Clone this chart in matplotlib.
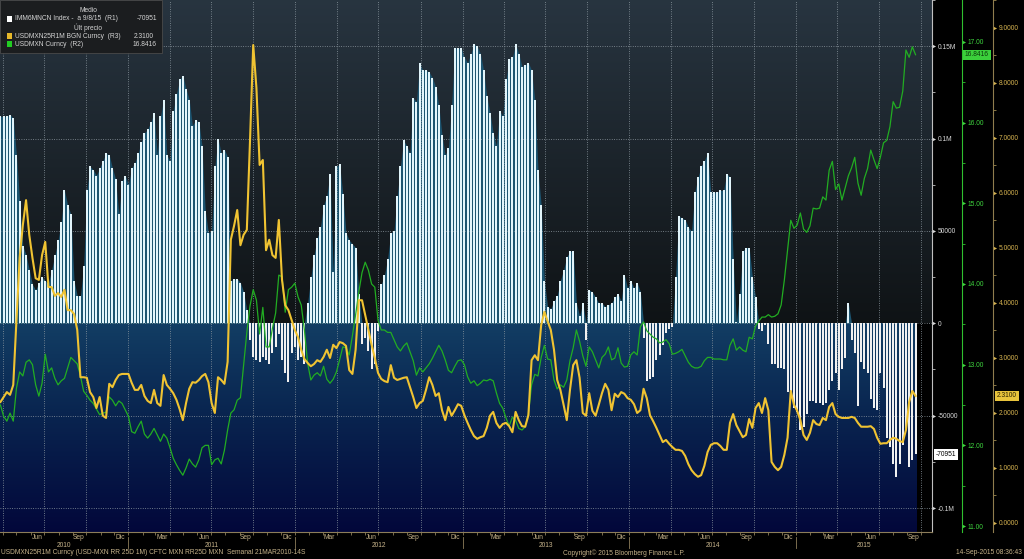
import datetime as dt
import numpy as np
import matplotlib
matplotlib.use("Agg")
import matplotlib.pyplot as plt
import matplotlib.dates as mdates
import matplotlib.transforms as mtransforms
from matplotlib.patches import Rectangle

plt.rcParams['font.family'] = ['Liberation Sans', 'DejaVu Sans']

# ---------------- data (weekly, from 27-Mar-2010) ----------------
# CFTC MXN net non-commercial positions, thousands of contracts (R1)
cftc_k = [
    112, 112, 112, 113, 111, 91, 66, 42, 37, 29, 21, 18,
    22, 25, 23, 22, 29, 37, 45, 55,
    72, 64, 59, 23, 15, 15, 31,
    72, 85, 83, 80, 84, 88, 92,
    91, 84, 78, 59, 77, 80, 75,
    84, 87, 92, 98, 103, 105, 109,
    114, 91, 112, 121, 91, 88, 115,
    124, 132, 134, 127, 121, 107, 110,
    109, 96, 61, 49, 50, 85, 100,
    92, 94, 90, 23, 24, 24, 22,
    17, 7,
    -9, -18, -20, -21, -18, -20, -22, -16, -13, -6, -20, -27, -32, -16, -13, -20, -18, -22,
    11, 25, 37, 46, 52, 64, 69, 81,
    28, 85, 86, 70, 49, 45, 43, 41, 16,
    -11, -8, -15, -25, -22, -4,
    21, 26, 35, 49, 50, 69, 85, 99, 96, 92,
    122, 120, 141, 137, 137, 136, 133, 128, 118,
    102, 91, 95, 118, 149, 149, 149, 144, 141,
    146, 151, 150, 146, 137, 123, 114, 103, 96,
    115, 112, 132, 143, 144, 151, 146, 139, 140,
    141, 137, 121, 83, 64, 23, 9, 8, 12,
    15, 23, 29, 36, 39, 39, 11, 4, 11,
    -9, 18, 17, 14, 11, 11, 9, 10,
    11, 14, 16, 12, 26, 19, 23, 19, 22, 17,
    -8, -31, -30, -29, -20, -17, -12, -5, -3, -2,
    25, 58, 57, 56, 52, 50, 71, 79, 85, 88,
    92, 71, 71, 71, 72, 72, 81, 79, 35, 0.5,
    16, 39, 41, 41, 25, 14,
    -3, -4, -1, -11, -22, -22, -24, -24, -25,
    -37, -38, -46, -48, -58, -56, -49, -42, -42, -43,
    -43, -44, -43, -36, -31, -27, -36, -25, -19,
    11, -9, -16, -45, -21, -25, -27, -41, -46, -47, -27, -35,
    -62, -67, -76, -83, -76, -66, -58, -78, -74, -70.951,
]

# USDMXN 25D 1M risk reversal (R3)
rr_25d = [
    2.20, 2.29, 2.38, 2.33, 2.51, 3.69, 4.82, 5.42, 5.87, 5.24,
    4.82, 4.45, 4.42, 4.87, 5.11, 4.29, 4.29, 4.13, 4.18, 4.11,
    4.24, 3.87, 3.87, 3.80, 3.51, 2.65, 2.65, 2.64, 2.38, 2.29,
    2.09, 2.29, 1.95, 1.91, 2.53, 2.47, 2.60, 2.69, 2.71, 2.71,
    2.71, 2.55, 2.42, 2.42, 2.51, 2.31, 2.22, 2.18, 2.42, 2.18,
    2.13, 2.69, 2.51, 2.44, 2.36, 2.24, 2.07, 1.87, 2.18, 2.44,
    2.56, 2.55, 2.60, 2.67, 2.71, 2.56, 2.18, 2.00, 2.65, 2.60,
    2.53, 2.93, 5.15, 5.40, 5.69, 5.05, 5.24, 5.33, 6.96, 8.69,
    7.91, 6.51, 6.60, 4.96, 5.15, 4.87, 4.82, 5.51, 4.42, 3.96,
    3.87, 3.69, 3.51, 3.38, 3.15, 2.98, 2.91, 2.85, 2.89, 2.96,
    2.93, 3.02, 3.15, 3.00, 3.24, 3.18, 3.29, 3.27, 3.22, 2.78,
    2.71, 3.15, 4.05, 4.05, 3.78, 3.51, 3.24, 3.00, 2.73, 2.62,
    2.58, 2.56, 2.87, 2.64, 2.60, 2.62, 2.64, 2.65, 2.47, 2.29,
    2.09, 2.18, 2.22, 2.42, 2.65, 2.51, 2.31, 2.36, 2.05, 1.87,
    2.11, 1.95, 2.05, 2.16, 2.13, 1.96, 1.82, 1.69, 1.58, 1.53,
    1.56, 1.58, 1.73, 1.95, 2.02, 1.82, 1.73, 1.80, 1.82, 1.76,
    1.65, 2.02, 1.87, 1.76, 1.75, 1.96, 2.96, 3.05, 2.96, 3.60,
    3.84, 3.67, 3.51, 3.15, 2.60, 2.42, 2.15, 1.87, 2.42, 2.87,
    2.96, 2.64, 2.00, 1.95, 2.36, 2.04, 1.95, 2.15, 2.36, 2.53,
    2.42, 2.05, 2.35, 2.29, 2.38, 2.35, 2.27, 2.24, 2.16, 2.00,
    2.05, 2.44, 2.27, 1.96, 1.85, 1.73, 1.60, 1.47, 1.51, 1.44,
    1.38, 1.33, 1.33, 1.31, 1.22, 1.07, 0.96, 0.89, 0.84, 0.87,
    1.04, 1.29, 1.42, 1.45, 1.45, 1.40, 1.33, 1.33, 1.82, 1.98,
    1.78, 1.67, 1.56, 1.60, 1.89, 1.73, 2.09, 2.18, 2.00, 2.27,
    2.05, 1.11, 1.02, 0.96, 1.02, 1.24, 1.55, 2.40, 2.15, 2.04,
    1.87, 1.60, 1.51, 1.64, 1.87, 1.80, 1.78, 1.91, 1.87, 2.11,
    2.18, 1.98, 1.93, 1.91, 1.91, 1.91, 1.93, 1.91, 1.82, 1.75,
    1.75, 1.75, 1.76, 1.71, 1.55, 1.44, 1.45, 1.45, 1.51, 1.55,
    1.53, 1.49, 1.47, 1.69, 2.20, 2.40, 2.31,
]

# USDMXN spot (R2)
usdmxn = [
    12.50, 12.36, 12.30, 12.40, 12.30, 12.71, 12.91, 12.86, 13.03, 13.06,
    13.00, 12.75, 12.61, 12.77, 13.13, 12.91, 12.96, 12.83, 12.75, 12.80,
    12.83, 12.96, 13.09, 13.05, 13.01, 12.86, 12.67, 12.62, 12.56, 12.52,
    12.45, 12.38, 12.40, 12.41, 12.60, 12.56, 12.49, 12.55, 12.52, 12.44,
    12.36, 12.17, 12.15, 12.23, 12.30, 12.14, 12.09, 12.14, 12.21, 12.13,
    12.05, 12.14, 12.09, 11.97, 11.84, 11.76, 11.69, 11.63, 11.72, 11.83,
    11.77, 11.73, 11.82, 11.97, 12.00, 12.00, 11.76, 11.82, 11.84, 11.77,
    11.94, 12.19, 12.40, 12.44, 12.56, 12.59, 13.00, 13.40, 13.73, 13.93,
    13.80, 13.38, 13.71, 13.22, 13.22, 13.45, 13.64, 14.11, 14.09, 13.65,
    13.93, 13.96, 14.01, 13.84, 13.74, 13.43, 13.02, 12.81, 12.87, 12.90,
    12.86, 12.98, 12.82, 12.77, 12.82, 12.91, 13.06, 13.22, 13.21, 13.12,
    13.36, 13.62, 13.90, 14.14, 14.27, 14.17, 14.00, 13.96, 13.55, 13.43,
    13.43, 13.40, 13.40, 13.31, 13.22, 13.17, 13.23, 13.27, 13.16, 13.05,
    12.87, 12.96, 12.91, 12.96, 13.01, 13.08, 13.16, 13.24, 13.17, 13.06,
    12.93, 12.90, 12.98, 13.05, 13.06, 13.00, 12.85, 12.77, 12.80, 12.74,
    12.77, 12.81, 12.80, 12.82, 12.80, 12.65, 12.52, 12.46, 12.34, 12.24,
    12.35, 12.31, 12.21, 12.19, 12.23, 12.39, 12.75, 12.88, 12.86, 13.09,
    13.24, 13.07, 13.06, 12.81, 12.70, 12.75, 12.72, 12.81, 13.05, 13.21,
    13.43, 13.29, 13.11, 12.98, 13.22, 13.16, 13.06, 12.96, 13.09, 13.13,
    13.22, 13.06, 13.08, 13.21, 13.02, 12.97, 12.98, 13.12, 13.16, 13.12,
    13.47, 13.53, 13.42, 13.38, 13.34, 13.32, 13.27, 13.28, 13.31, 13.26,
    13.13, 13.14, 13.16, 13.19, 13.11, 13.03, 12.98, 12.96, 12.96, 12.98,
    13.05, 13.09, 13.09, 13.07, 13.07, 13.07, 13.06, 13.06, 13.24, 13.32,
    13.18, 13.22, 13.18, 13.16, 13.34, 13.32, 13.48, 13.54, 13.59, 13.59,
    13.62, 13.59, 13.60, 13.63, 13.74, 14.05, 14.42, 14.79, 14.69, 14.73,
    14.88, 14.68, 14.64, 14.72, 14.94, 14.93, 14.94, 15.08, 15.04, 15.41,
    15.52, 15.17, 15.24, 15.04, 15.19, 15.34, 15.44, 15.57, 15.25, 15.10,
    15.31, 15.43, 15.66, 15.54, 15.43, 15.57, 15.75, 15.78, 15.95, 16.26,
    16.18, 16.19, 16.39, 16.90, 16.81, 16.94, 16.8416,
]

r1_ticks = [-100000, -50000, 0, 50000, 100000, 150000]
r1_labels = ['-0.1M', '-50000', '0', '50000', '0.1M', '0.15M']
r2_ticks = [11, 12, 13, 14, 15, 16, 17]
r3_ticks = [0, 1, 2, 3, 4, 5, 6, 7, 8, 9]
month_names = {3: 'Mar', 6: 'Jun', 9: 'Sep', 12: 'Dic'}

# ---------------- layout helpers ----------------
W, H = 1024, 559
def fx(px):
    return px / W
def fy(py):
    return 1 - py / H

start = dt.date(2010, 3, 27)
def weekly(n):
    return mdates.date2num([start + dt.timedelta(days=7 * i) for i in range(n)])

d1 = weekly(len(cftc_k))
d2 = weekly(len(usdmxn))
d3 = weekly(len(rr_25d))
pos = np.array(cftc_k, dtype=float) * 1000.0

x_lo = mdates.date2num(dt.date(2010, 3, 26))
x_hi = x_lo + 2039

TAN = '#c6b38a'
fig = plt.figure(figsize=(W / 100, H / 100), dpi=100, facecolor='black')
ax = fig.add_axes([0, 1 - 532 / H, 932 / W, 532 / H])
ax.set_facecolor('black')
ax2 = ax.twinx()
ax3 = ax.twinx()

y1lo, y1hi = -112973, 174595
ax.set_xlim(x_lo, x_hi)
ax.set_ylim(y1lo, y1hi)
ax2.set_ylim(10.926, 17.52)
ax3.set_ylim(-0.164, 9.509)

# background gradients
top_grad = np.linspace(0, 1, 64)[:, None]
c_top = np.array([0.155, 0.205, 0.25])
c_zero = np.array([0.06, 0.075, 0.085])
img_top = (c_zero[None, None, :] * (1 - top_grad[..., None]) + c_top[None, None, :] * top_grad[..., None])
ax.imshow(img_top, extent=[x_lo, x_hi, 0, y1hi], origin='lower', aspect='auto',
          interpolation='bilinear', zorder=0)
g = np.linspace(0, 1, 64)
stops = [(0.0, (0.07, 0.24, 0.39)), (0.45, (0.035, 0.14, 0.31)), (1.0, (0.01, 0.03, 0.23))]
cols = np.zeros((64, 3))
for k in range(3):
    cols[:, k] = np.interp(g, [s[0] for s in stops], [s[1][k] for s in stops])
img_bot = cols[:, None, :]
ax.imshow(img_bot, extent=[x_lo, d1[-1] + 2.5, y1lo, 0], origin='upper', aspect='auto',
          interpolation='bilinear', zorder=0)

# envelope + bars
ax.fill_between(d1, 0, np.clip(pos, 0, None), color='#1c5470', lw=0, zorder=1)
bar_cols = ['#e2f5fb' if v >= 0 else '#f0f0f0' for v in pos]
ax.bar(d1, pos, width=4.4, color=bar_cols, linewidth=0, zorder=2)

# grid
GRID = '#8e9aa2'
for yv in r1_ticks:
    ax.axhline(yv, color=GRID, lw=0.6, ls=(0, (1, 1.8)), zorder=1.5)
for yr in range(2010, 2016):
    for mo in (1, 4, 7, 10):
        xd = mdates.date2num(dt.date(yr, mo, 1))
        if x_lo < xd < x_hi:
            ax.axvline(xd, color=GRID, lw=0.6, ls=(0, (1, 1.8)), zorder=1.5)

# lines
ax2.plot(d2, usdmxn, color='#22ad22', lw=0.9, zorder=3)
ax3.plot(d3, rr_25d, color='#f0c332', lw=1.5, zorder=4)

# spines
for a in (ax, ax2, ax3):
    for s in ('left', 'top'):
        a.spines[s].set_visible(False)
for a in (ax2, ax3):
    a.spines['bottom'].set_visible(False)
ax.spines['bottom'].set_color('#8c7d5a')
ax.spines['bottom'].set_linewidth(0.8)
ax.spines['right'].set_color('#c0c0c0')
ax.spines['right'].set_linewidth(0.8)
ax2.spines['right'].set_position(('axes', 962 / 932))
ax2.spines['right'].set_color('#2fbf2f')
ax2.spines['right'].set_linewidth(0.8)
ax3.spines['right'].set_position(('axes', 993 / 932))
ax3.spines['right'].set_color('#8f7d4e')
ax3.spines['right'].set_linewidth(0.8)

FS = 4.8
ax.yaxis.tick_right()
ax.set_yticks(r1_ticks)
ax.set_yticklabels(r1_labels)
ax.set_yticks([v for v in range(-100000, 175001, 25000) if v not in r1_ticks], minor=True)
ax.tick_params(axis='y', which='major', colors='#d8d8d8', labelsize=FS, length=1.5, width=0.8, pad=2.6,
               left=False, right=True, labelleft=False, labelright=True)
ax.tick_params(axis='y', which='minor', colors='#c0c0c0', length=1.8, width=0.6, left=False, right=True)

ax2.set_yticks(r2_ticks)
ax2.set_yticklabels([f'{v:.2f}' for v in r2_ticks])
ax2.set_yticks([v + 0.5 for v in r2_ticks[:-1]], minor=True)
ax2.tick_params(axis='y', which='major', colors='#2fbf2f', labelcolor='#3ed43e', labelsize=FS,
                length=1.5, width=0.8, pad=2.6)
ax2.tick_params(axis='y', which='minor', colors='#2fbf2f', length=1.8, width=0.6)

ax3.set_yticks(r3_ticks)
ax3.set_yticklabels([f'{v:.4f}' for v in r3_ticks])
ax3.set_yticks([v + 0.5 for v in r3_ticks], minor=True)
ax3.tick_params(axis='y', which='major', colors='#b59a55', labelcolor='#d6b350', labelsize=FS,
                length=1.5, width=0.8, pad=2.6)
ax3.tick_params(axis='y', which='minor', colors='#a08a50', length=1.8, width=0.6)

# small triangle tick heads (Bloomberg style)
for a, xpos, ticks, colr in ((ax, 1.0, r1_ticks, '#d8d8d8'),
                             (ax2, 962 / 932, r2_ticks, '#3ed43e'),
                             (ax3, 993 / 932, r3_ticks, '#d6b350')):
    tr = mtransforms.blended_transform_factory(a.transAxes, a.transData)
    a.plot([xpos + 2.3 / 932] * len(ticks), ticks, ls='none', marker='>', ms=2.3, mew=0,
           color=colr, transform=tr, clip_on=False, zorder=6)

# x axis
month_starts = []
for yr in range(2010, 2016):
    for mo in range(1, 13):
        xd = mdates.date2num(dt.date(yr, mo, 1))
        if x_lo <= xd <= x_hi:
            month_starts.append(xd)
ax.set_xticks([])
ax.set_xticks(month_starts, minor=True)
ax.tick_params(axis='x', which='minor', colors='#8c7d5a', length=2, width=0.6, labelbottom=False)

tb = mtransforms.blended_transform_factory(ax.transData, ax.transAxes)
for yr in range(2010, 2016):
    for mo, name in month_names.items():
        xd = mdates.date2num(dt.date(yr, mo, 15))
        if x_lo < xd < x_hi:
            ax.text(xd, -0.0105, name, transform=tb, ha='center', va='center',
                    fontsize=FS, color=TAN, clip_on=False)
    a0 = max(mdates.date2num(dt.date(yr, 1, 1)), x_lo)
    a1 = min(mdates.date2num(dt.date(yr + 1, 1, 1)), x_hi)
    ax.text((a0 + a1) / 2, -0.0255, str(yr), transform=tb, ha='center', va='center',
            fontsize=FS, color=TAN, clip_on=False)
    jan = mdates.date2num(dt.date(yr, 1, 1))
    if x_lo < jan < x_hi:
        ax.plot([jan, jan], [-0.009, -0.031], transform=tb, color='#8c7d5a', lw=0.6, clip_on=False)

# last-value boxes
ax.text(936 / 932, pos[-1], f'{pos[-1]:.0f}', transform=mtransforms.blended_transform_factory(ax.transAxes, ax.transData),
        ha='left', va='center', fontsize=FS, color='black', clip_on=False, zorder=7,
        bbox=dict(facecolor='white', edgecolor='none', boxstyle='square,pad=0.25'))
ax2.text(965 / 932, usdmxn[-1], f'{usdmxn[-1]:.4f}',
         transform=mtransforms.blended_transform_factory(ax2.transAxes, ax2.transData),
         ha='left', va='center', fontsize=FS, color='#0b3a0b', clip_on=False, zorder=7,
         bbox=dict(facecolor='#3bd03b', edgecolor='none', boxstyle='square,pad=0.25'))
ax3.text(997 / 932, rr_25d[-1], f'{rr_25d[-1]:.4f}',
         transform=mtransforms.blended_transform_factory(ax3.transAxes, ax3.transData),
         ha='left', va='center', fontsize=FS, color='#2a2000', clip_on=False, zorder=7,
         bbox=dict(facecolor='#e9c43c', edgecolor='none', boxstyle='square,pad=0.25'))

# legend box
LT = '#d4d4d4'
fig.add_artist(Rectangle((0, fy(53)), fx(162), 53 / H, transform=fig.transFigure,
                         facecolor='#1b1d1f', edgecolor='#4a4a4a', lw=0.6, zorder=10))
fig.text(fx(88), fy(11), 'Medio', ha='center', va='center', fontsize=FS, color=LT, zorder=11)
fig.text(fx(88), fy(27.5), 'Últ precio', ha='center', va='center', fontsize=FS, color=LT, zorder=11)
rows = [
    (19, 'white', 'IMM6MNCN Index -  a 9/8/15  (R1)', f'{pos[-1]:.0f}', 157),
    (36, '#e6b82a', 'USDMXN25R1M BGN Curncy  (R3)', f'{rr_25d[-1]:.4f}', 154),
    (44, '#22cc22', 'USDMXN Curncy  (R2)', f'{usdmxn[-1]:.4f}', 157),
]
for yy, colr, lab, val, xr in rows:
    fig.add_artist(Rectangle((fx(6.5), fy(yy + 2.8)), fx(5.5), 5.5 / H, transform=fig.transFigure,
                             facecolor=colr, edgecolor='none', zorder=11))
    fig.text(fx(15), fy(yy), lab, ha='left', va='center', fontsize=FS, color=LT, zorder=11)
    fig.text(fx(xr), fy(yy), val, ha='right', va='center', fontsize=FS, color=LT, zorder=11)

# footer
fig.text(fx(1), fy(553), 'USDMXN25R1M Curncy (USD-MXN RR 25D 1M) CFTC MXN RR25D MXN  Semanal 21MAR2010-14S',
         ha='left', va='center', fontsize=FS, color=TAN)
fig.text(fx(563), fy(553), 'Copyright\u00a9 2015 Bloomberg Finance L.P.', ha='left', va='center',
         fontsize=FS, color=TAN)
fig.text(fx(1022), fy(553), '14-Sep-2015 08:36:43', ha='right', va='center', fontsize=FS, color=TAN)

fig.savefig('out.png', dpi=100, facecolor='black')
